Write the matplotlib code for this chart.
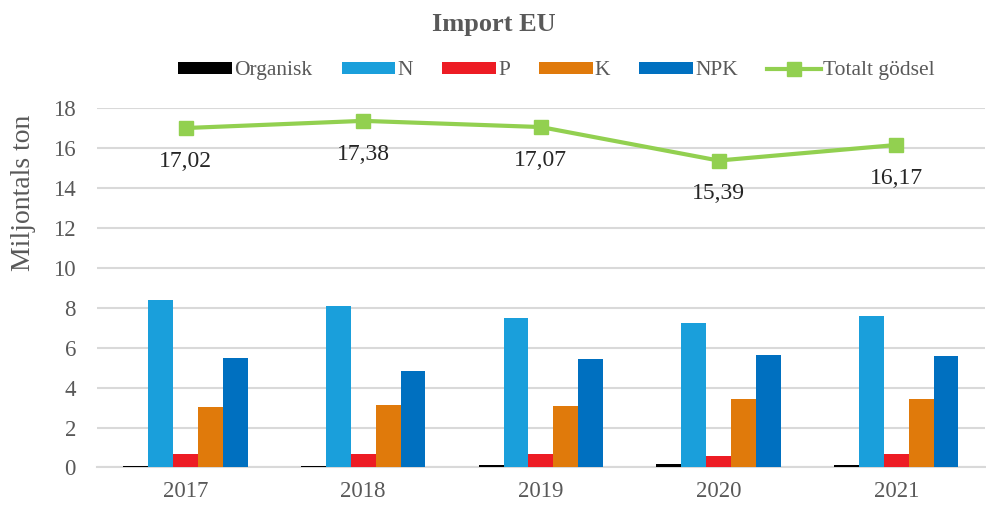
import numpy as np
import matplotlib.pyplot as plt

plt.rcParams['font.family'] = ['Liberation Serif', 'DejaVu Serif']

# Data (miljontals ton)
years = ["2017", "2018", "2019", "2020", "2021"]
organisk = [0.08, 0.09, 0.10, 0.15, 0.10]
n = [8.42, 8.12, 7.48, 7.24, 7.60]
p = [0.69, 0.69, 0.67, 0.57, 0.65]
k = [3.01, 3.11, 3.06, 3.41, 3.41]
npk = [5.50, 4.86, 5.42, 5.66, 5.57]
totalt = [17.02, 17.38, 17.07, 15.39, 16.17]

serier = [("Organisk", organisk, "#000000"),
          ("N", n, "#1A9FDB"),
          ("P", p, "#ED1C24"),
          ("K", k, "#E07A0B"),
          ("NPK", npk, "#0070C0")]

fig = plt.figure(figsize=(9.87, 5.07), dpi=100)
ax = fig.add_axes([0.098, 0.078, 0.9, 0.708])

x = np.arange(len(years))
w = 0.14
handles = []
for i, (namn, vals, farg) in enumerate(serier):
    b = ax.bar(x + (i - 2) * w, vals, w, color=farg, label=namn, zorder=3)
    handles.append(b)

linje, = ax.plot(x, totalt, color="#92D050", lw=3, marker="s", markersize=10,
                 label="Totalt gödsel", zorder=4)
handles.append(linje)
for xi, v in zip(x, totalt):
    ax.annotate(f"{v:.2f}".replace(".", ","), (xi, v), xytext=(0, -24),
                textcoords="offset points", ha="center", va="center",
                fontsize=17, color="#262626")

ax.set_xlim(-0.5, len(years) - 0.5)
ax.set_ylim(0, 18)
ax.set_yticks(range(0, 19, 2))
ax.set_xticks(x)
ax.set_xticklabels(years)
ax.tick_params(axis="both", labelsize=16.5, colors="#595959", length=0)
ax.tick_params(axis="x", pad=10)
ax.tick_params(axis="y", pad=15)
ax.grid(axis="y", color="#D9D9D9", lw=1.5, zorder=0)
for s in ["top", "right", "left"]:
    ax.spines[s].set_visible(False)
ax.spines["bottom"].set_color("#D9D9D9")
ax.spines["bottom"].set_linewidth(1.5)

# y-etiketten sitter högt upp i originalet
ax.set_ylabel("Miljontals ton", fontsize=20, color="#595959")
ax.yaxis.set_label_coords(-0.068, 0.766)

fig.suptitle("Import EU", fontsize=19, fontweight="bold", color="#595959",
             y=0.975)
fig.legend(handles=handles, loc="center", bbox_to_anchor=(0.564, 0.86),
           ncol=6, frameon=False, fontsize=15.5, handlelength=2.5,
           handleheight=0.5, handletextpad=0.1, columnspacing=1.35,
           labelcolor="#595959")

fig.savefig("out.png", dpi=100)
